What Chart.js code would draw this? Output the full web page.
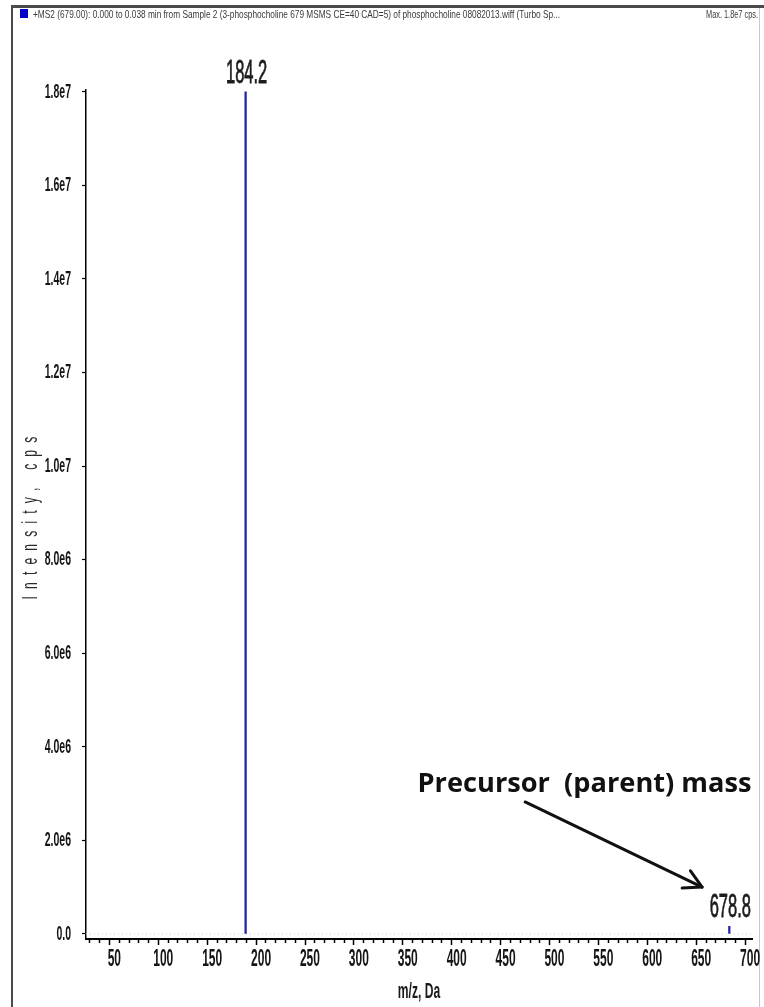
<!DOCTYPE html>
<html>
<head>
<meta charset="utf-8">
<title>Product ion spectrum – phosphocholine m/z 679</title>
<script src="https://cdn.jsdelivr.net/npm/chart.js@4.4.1/dist/chart.umd.min.js"></script>
<style>
  html, body { margin: 0; padding: 0; background: #ffffff; }
  #wrap { width: 764px; height: 1007px; position: relative; }
  canvas { display: block; }
</style>
</head>
<body>
<div id="wrap"><canvas id="spectrum" width="764" height="1007"></canvas></div>
<script>
// ---- spectrum data ----
const peakMz = [184.2, 678.8];
const peakIntensity = [1.8e7, 1.6e5];

// ---- axis ticks ----
const xTickValues = [50, 100, 150, 200, 250, 300, 350, 400, 450, 500, 550, 600, 650, 700];
const yTickValues = [0, 2e6, 4e6, 6e6, 8e6, 1e7, 1.2e7, 1.4e7, 1.6e7, 1.8e7];
const yTickLabels = ['0.0', '2.0e6', '4.0e6', '6.0e6', '8.0e6', '1.0e7', '1.2e7', '1.4e7', '1.6e7', '1.8e7'];
const xRange = [21, 702];
const yRange = [-1.1e5, 1.804e7];

// ---- texts ----
const headerText = '+MS2 (679.00): 0.000 to 0.038 min from Sample 2 (3-phosphocholine 679 MSMS CE=40 CAD=5) of phosphocholine 08082013.wiff (Turbo Sp...';
const maxText = 'Max. 1.8e7 cps.';
const noteText = 'Precursor  (parent) mass';
const xTitle = 'm/z, Da';
const yTitle = 'Intensity, cps';

// annotation anchors, in axis units (m/z, cps)
const noteAnchor = { x: 360, y: 3.04e6 };
const arrowFrom = { x: 470, y: 2.82e6 };
const arrowTo = { x: 651, y: 1.0e6 };

const FONT = "'Liberation Sans', Arial, sans-serif";
const PEAK_BLUE = '#2323a6';

// Draw text squeezed horizontally around its anchor (narrow instrument font look)
function condensedText(ctx, text, x, y, sx) {
  ctx.save();
  ctx.translate(x, y);
  ctx.scale(sx, 1);
  ctx.fillText(text, 0, 0);
  ctx.restore();
}

// Wrap a scale's label/title drawing so its text comes out condensed
function condenseScale(scale, sx, titleSx, titleSpacing) {
  if (scale.__condensed) return;
  scale.__condensed = true;
  const wrap = (fnName, k, spacing) => {
    const orig = scale[fnName];
    scale[fnName] = function (...args) {
      const ctx = this.ctx;
      const fill = ctx.fillText;
      ctx.fillText = function (t, x, y, mw) {
        this.save();
        if (spacing) this.letterSpacing = spacing;
        this.translate(x, y);
        this.scale(k, 1);
        if (mw !== undefined) fill.call(this, t, 0, 0, mw / k);
        else fill.call(this, t, 0, 0);
        this.restore();
      };
      try { orig.apply(this, args); }
      finally { delete ctx.fillText; }
    };
  };
  wrap('drawLabels', sx, null);
  wrap('drawTitle', titleSx, titleSpacing);
}

const spectrumDecor = {
  id: 'spectrumDecor',
  beforeDraw(chart) {
    const ctx = chart.ctx;
    ctx.save();
    ctx.fillStyle = '#ffffff';
    ctx.fillRect(0, 0, chart.width, chart.height);

    // window frame
    ctx.fillStyle = '#4a4a4a';
    ctx.fillRect(12, 5, chart.width - 12, 3);
    ctx.fillRect(11, 5, 2, chart.height - 5);
    ctx.fillStyle = '#c8c8c8';
    ctx.fillRect(759, 8, 1, chart.height - 8);

    // header: trace marker + description
    ctx.fillStyle = '#0000c8';
    ctx.fillRect(20, 9, 8, 9);
    ctx.fillStyle = '#3a3a3a';
    ctx.font = '11px ' + FONT;
    ctx.textBaseline = 'alphabetic';
    ctx.textAlign = 'left';
    const hw = ctx.measureText(headerText).width;
    condensedText(ctx, headerText, 33, 18, 527 / hw);
    ctx.textAlign = 'right';
    const mw = ctx.measureText(maxText).width;
    condensedText(ctx, maxText, 758, 18, 52 / mw);
    ctx.restore();

    condenseScale(chart.scales.x, 0.5, 0.55, null);
    condenseScale(chart.scales.y, 0.5, 0.55, '13px');
  },
  afterDraw(chart) {
    const ctx = chart.ctx;
    const xs = chart.scales.x, ys = chart.scales.y;
    ctx.save();

    // peak m/z labels
    ctx.fillStyle = '#1c1c1c';
    ctx.font = '33px ' + FONT;
    ctx.textAlign = 'center';
    ctx.textBaseline = 'alphabetic';
    peakMz.forEach((mz, i) => {
      const px = xs.getPixelForValue(mz);
      const py = ys.getPixelForValue(peakIntensity[i]);
      ctx.lineWidth = 0.8;
      ctx.strokeStyle = '#1c1c1c';
      ctx.save();
      ctx.translate(px + 1, py - 9);
      ctx.scale(0.5, 1);
      ctx.fillText(mz.toFixed(1), 0, 0);
      ctx.strokeText(mz.toFixed(1), 0, 0);
      ctx.restore();
    });

    // precursor note and arrow
    ctx.fillStyle = '#111111';
    ctx.font = 'bold 26px "Open Sans", ' + FONT;
    ctx.textAlign = 'left';
    const nw = ctx.measureText(noteText).width;
    condensedText(ctx, noteText, xs.getPixelForValue(noteAnchor.x), ys.getPixelForValue(noteAnchor.y), 334 / nw);

    const x1 = xs.getPixelForValue(arrowFrom.x), y1 = ys.getPixelForValue(arrowFrom.y);
    const x2 = xs.getPixelForValue(arrowTo.x), y2 = ys.getPixelForValue(arrowTo.y);
    const ang = Math.atan2(y2 - y1, x2 - x1);
    ctx.strokeStyle = '#111111';
    ctx.lineWidth = 3;
    ctx.lineCap = 'round';
    ctx.lineJoin = 'round';
    ctx.beginPath();
    ctx.moveTo(x1, y1);
    ctx.lineTo(x2, y2);
    ctx.stroke();
    const head = 20, spread = 0.5;
    ctx.beginPath();
    ctx.moveTo(x2 - head * Math.cos(ang - spread), y2 - head * Math.sin(ang - spread));
    ctx.lineTo(x2, y2);
    ctx.lineTo(x2 - head * Math.cos(ang + spread), y2 - head * Math.sin(ang + spread));
    ctx.stroke();
    ctx.restore();
  }
};

new Chart(document.getElementById('spectrum'), {
  type: 'bar',
  data: {
    datasets: [
      {
        type: 'bar',
        data: peakMz.map((mz, i) => ({ x: mz, y: peakIntensity[i] })),
        backgroundColor: PEAK_BLUE,
        borderWidth: 0,
        barThickness: 1.6,
        order: 1
      },
      {
        type: 'line',
        data: [{ x: xRange[0], y: 0 }, { x: xRange[1], y: 0 }],
        borderColor: '#cfcfcf',
        borderWidth: 1,
        borderDash: [1, 3],
        pointRadius: 0,
        order: 2
      }
    ]
  },
  options: {
    responsive: false,
    devicePixelRatio: 1,
    animation: false,
    events: [],
    layout: { padding: { left: 13, right: 12, top: 90, bottom: 0 }, autoPadding: false },
    plugins: { legend: { display: false }, tooltip: { enabled: false } },
    scales: {
      x: {
        type: 'linear',
        min: xRange[0],
        max: xRange[1],
        bounds: 'data',
        offset: false,
        afterBuildTicks: (s) => {
          const t = [];
          for (let v = 30; v <= 700; v += 10) t.push({ value: v });
          s.ticks = t;
        },
        ticks: {
          autoSkip: false,
          maxRotation: 0,
          padding: 0,
          color: '#141414',
          font: { family: FONT, size: 24, weight: 'bold', lineHeight: 1.2 },
          callback: (v) => (xTickValues.includes(v) ? String(v) : '')
        },
        grid: {
          drawOnChartArea: false,
          drawTicks: true,
          tickLength: 6,
          tickColor: '#000000',
          tickWidth: 1.5,
          tickBorderDash: (c) => (c.tick && xTickValues.includes(c.tick.value) ? [] : [3, 20])
        },
        border: { color: '#000000', width: 2 },
        title: {
          display: true,
          text: xTitle,
          color: '#1a1a1a',
          font: { family: FONT, size: 22, weight: 'bold', lineHeight: 1.2 },
          padding: { top: 0, bottom: 2 }
        },
        afterFit: (s) => { s.height = 68; s.paddingLeft = 0; s.paddingRight = 0; }
      },
      y: {
        type: 'linear',
        min: yRange[0],
        max: yRange[1],
        bounds: 'data',
        afterBuildTicks: (s) => { s.ticks = yTickValues.map((v) => ({ value: v })); },
        ticks: {
          autoSkip: false,
          padding: 11,
          color: '#141414',
          font: { family: FONT, size: 21, weight: 'bold', lineHeight: 1.2 },
          callback: (v) => yTickLabels[yTickValues.indexOf(v)]
        },
        grid: {
          drawOnChartArea: false,
          drawTicks: true,
          tickLength: 4,
          tickColor: '#000000',
          tickWidth: 1.2
        },
        border: { color: '#000000', width: 1.5 },
        title: {
          display: true,
          text: yTitle,
          color: '#2a2a2a',
          font: { family: FONT, size: 22, lineHeight: 1.2 },
          padding: { top: 5, bottom: 0 }
        },
        afterFit: (s) => { s.width = 73; s.paddingTop = 0; s.paddingBottom = 0; }
      }
    }
  },
  plugins: [spectrumDecor]
});
</script>
</body>
</html>
